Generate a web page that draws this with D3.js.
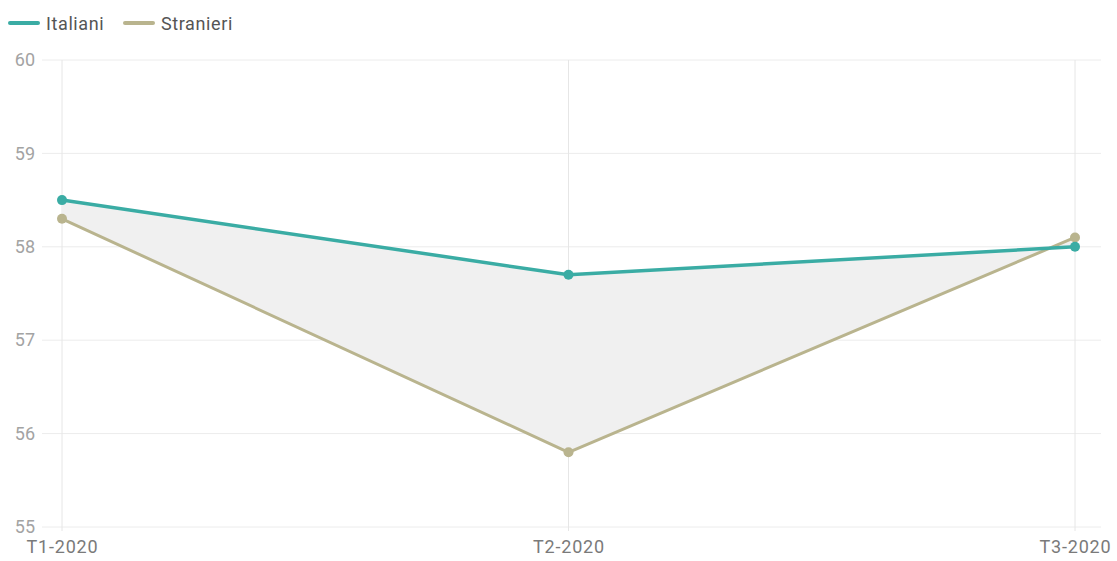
<!DOCTYPE html>
<html>
<head>
<meta charset="utf-8">
<script src="https://cdn.jsdelivr.net/npm/d3@7"></script>
<style>
  html, body { margin: 0; padding: 0; background: #fff; }
  svg { display: block; font-family: Roboto, "Noto Sans", sans-serif; }
</style>
</head>
<body>
<svg id="chart" width="1117" height="561"></svg>
<script>
// Quarterly values for the two groups
const categories = ["T1-2020", "T2-2020", "T3-2020"];
const italiani = [58.5, 57.7, 58.0];
const stranieri = [58.3, 55.8, 58.1];
const yTicks = [55, 56, 57, 58, 59, 60];
const seriesNames = ["Italiani", "Stranieri"];
const seriesColors = ["#3aaca4", "#b9b48e"];
const seriesWidths = [3.5, 3];

const svg = d3.select("#chart");
const W = 1117, H = 561;
const margin = { left: 62, right: 42, top: 60, bottom: 34 };

const x = d3.scalePoint().domain(categories).range([margin.left, W - margin.right]);
const y = d3.scaleLinear().domain([55, 60]).range([H - margin.bottom, margin.top]);

// grid
const grid = svg.append("g");
grid.selectAll("line.h").data(yTicks).join("line")
  .attr("x1", 42).attr("x2", W - 16)
  .attr("y1", d => y(d)).attr("y2", d => y(d))
  .attr("stroke", "#ececec").attr("stroke-width", 1);
grid.selectAll("line.v").data(categories).join("line")
  .attr("x1", d => x(d)).attr("x2", d => x(d))
  .attr("y1", y(60)).attr("y2", y(55) + 4)
  .attr("stroke", "#e6e6e6").attr("stroke-width", 1);

// y axis labels
const yAxis = d3.axisLeft(y).tickValues(yTicks).tickFormat(d3.format("d")).tickSize(0).tickPadding(0);
svg.append("g").attr("transform", "translate(35,0)").call(yAxis)
  .call(g => g.select(".domain").remove())
  .selectAll("text").attr("fill", "#a3a3a3").attr("font-size", 18)
  .attr("font-family", "Roboto, sans-serif");

// x axis labels
const xAxis = d3.axisBottom(x).tickSize(0).tickPadding(0);
svg.append("g").attr("transform", `translate(0,${y(55) + 13})`).call(xAxis)
  .call(g => g.select(".domain").remove())
  .selectAll("text").attr("fill", "#7a7a7a").attr("font-size", 18)
  .attr("letter-spacing", 0.8)
  .attr("font-family", "Roboto, sans-serif");

// shaded band between the two series
const band = d3.area()
  .x((d, i) => x(categories[i]))
  .y0((d, i) => y(stranieri[i]))
  .y1((d, i) => y(italiani[i]));
svg.append("path").datum(italiani).attr("d", band).attr("fill", "#f0f0f0");

const line = d3.line().x((d, i) => x(categories[i])).y(d => y(d));
[[stranieri, 1], [italiani, 0]].forEach(([vals, k]) => {
  const color = seriesColors[k];
  svg.append("path").datum(vals).attr("d", line)
    .attr("fill", "none").attr("stroke", color).attr("stroke-width", seriesWidths[k])
    .attr("stroke-linejoin", "round");
  svg.append("g").selectAll("circle").data(vals).join("circle")
    .attr("cx", (d, i) => x(categories[i])).attr("cy", d => y(d))
    .attr("r", 5).attr("fill", color);
});

// legend
const legend = svg.append("g");
const legendX = [10, 125];
seriesNames.forEach((name, i) => {
  legend.append("line")
    .attr("x1", legendX[i]).attr("x2", legendX[i] + 28)
    .attr("y1", 23).attr("y2", 23)
    .attr("stroke", seriesColors[i]).attr("stroke-width", 4).attr("stroke-linecap", "round");
  legend.append("text")
    .attr("x", legendX[i] + 36).attr("y", 30)
    .attr("font-size", 18).attr("fill", "#555")
    .attr("letter-spacing", 0.6)
    .text(name);
});
</script>
</body>
</html>
